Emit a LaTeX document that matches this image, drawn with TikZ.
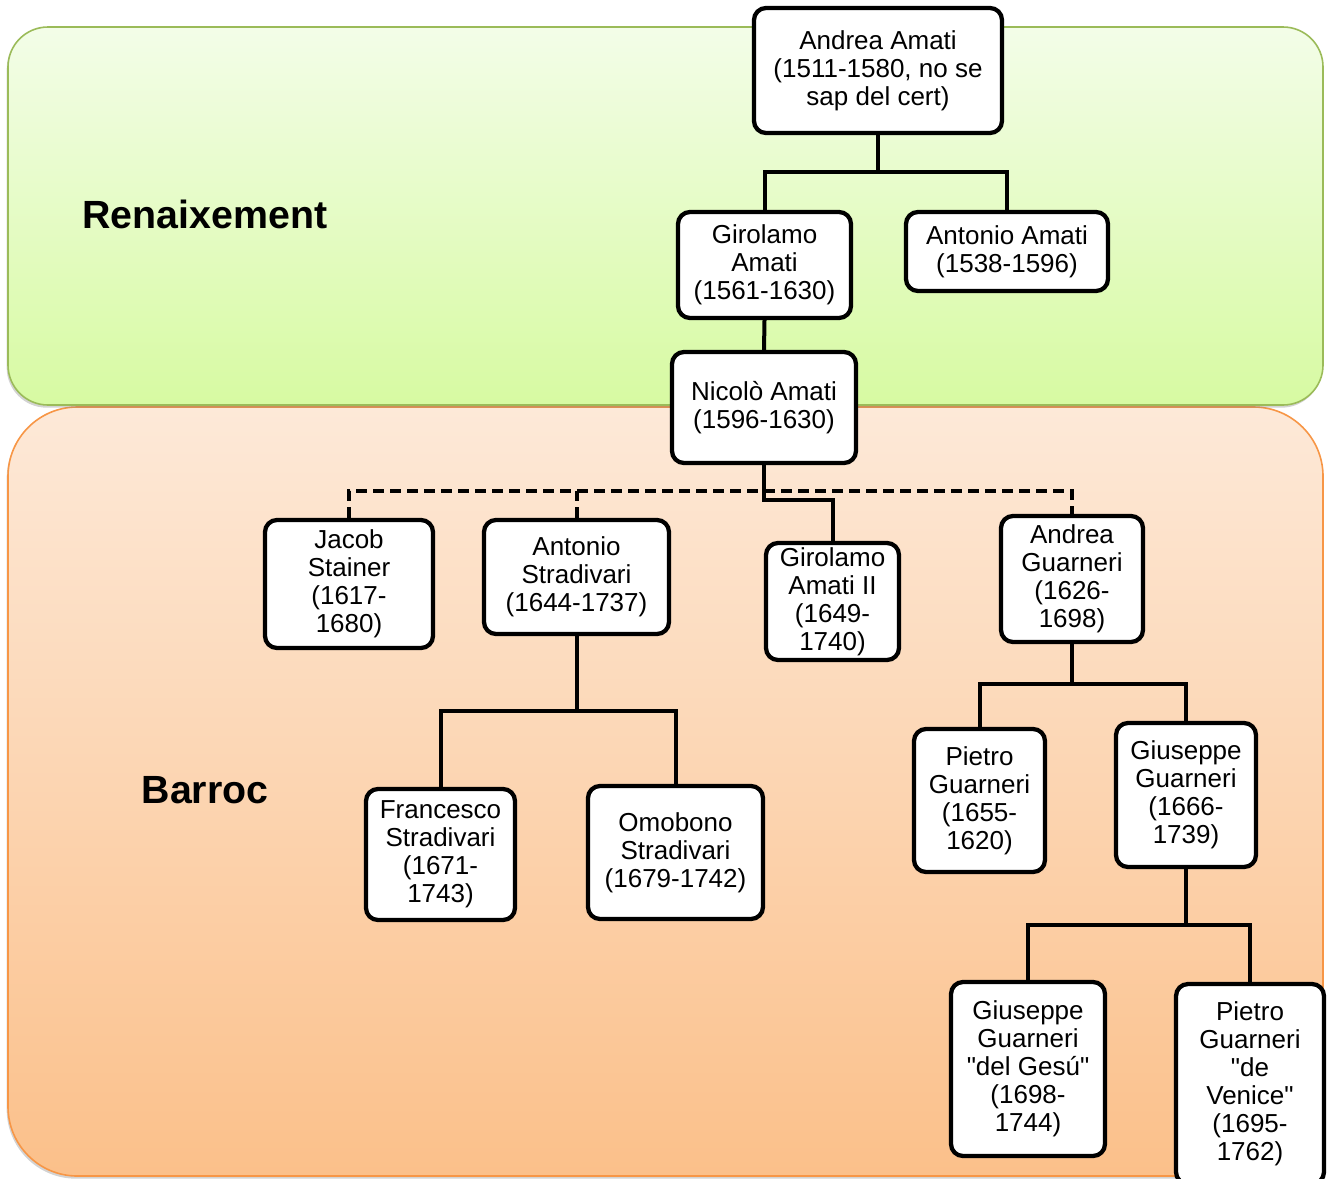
\documentclass[tikz,border=0pt]{standalone}
\usepackage{fontspec}
\setmainfont{Liberation Sans}
% same face without the TeX input mapping, so " stays a straight quote
\newfontfamily\plainsans{Liberation Sans}
\usetikzlibrary{shadows}
\definecolor{rentop}{RGB}{243,253,232}
\definecolor{renbot}{RGB}{215,250,162}
\definecolor{renline}{RGB}{155,187,89}
\definecolor{bartop}{RGB}{253,233,216}
\definecolor{barbot}{RGB}{251,192,138}
\definecolor{barline}{RGB}{247,150,70}
\begin{document}
\begin{tikzpicture}[x=0.75pt,y=-0.75pt,
  person/.style={draw=black, fill=white, line width=3.2pt, rounded corners=9pt,
    align=center, inner sep=0pt, font=\plainsans\fontsize{19.5}{21}\selectfont},
  link/.style={line width=3pt},
  dlink/.style={line width=3pt, dash pattern=on 8.25pt off 4.5pt},
  era/.style={font=\plainsans\fontsize{29.5}{34}\selectfont\bfseries},
  eraback/.style={line width=1.2pt, drop shadow={shadow xshift=-1pt, shadow yshift=-2pt, opacity=0.35}}]
\useasboundingbox (0,0) rectangle (1333,1178);

% period backgrounds
\shadedraw[eraback, draw=barline, top color=bartop, bottom color=barbot, rounded corners=52pt]
  (8,407) rectangle (1323,1176);
\shadedraw[eraback, draw=renline, top color=rentop, bottom color=renbot, rounded corners=30pt]
  (8,27) rectangle (1323,405);

\node[era] (ren) at (205,214) {Renaixement};
\node[era] (bar) at (205,790) {Barroc};

% luthiers
\node[person, minimum width=186pt, minimum height=93.75pt] (aa) at (878,70.5) {Andrea Amati\\(1511-1580, no se\\sap del cert)};
\node[person, minimum width=129.75pt, minimum height=79.5pt] (ga) at (764.5,265) {Girolamo\\Amati\\(1561-1630)};
\node[person, minimum width=151.5pt, minimum height=59.25pt] (an) at (1007,251.5) {Antonio Amati\\(1538-1596)};
\node[person, minimum width=138pt, minimum height=83.25pt] (na) at (764,407.5) {Nicolò Amati\\(1596-1630)};
\node[person, minimum width=126pt, minimum height=96pt] (js) at (349,584) {Jacob\\Stainer\\(1617-\\1680)};
\node[person, minimum width=138.75pt, minimum height=85.5pt] (as) at (576.5,577) {Antonio\\Stradivari\\(1644-1737)};
\node[person, minimum width=99.75pt, minimum height=87.75pt] (g2) at (832.5,601.5) {Girolamo\\Amati II\\(1649-\\1740)};
\node[person, minimum width=106.5pt, minimum height=94.5pt] (ag) at (1072,579) {Andrea\\Guarneri\\(1626-\\1698)};
\node[person, minimum width=111.75pt, minimum height=98.25pt] (fs) at (440.5,854.5) {Francesco\\Stradivari\\(1671-\\1743)};
\node[person, minimum width=131.25pt, minimum height=99.75pt] (os) at (675.5,852.5) {Omobono\\Stradivari\\(1679-1742)};
\node[person, minimum width=98.25pt, minimum height=107.25pt] (pg) at (979.5,800.5) {Pietro\\Guarneri\\(1655-\\1620)};
\node[person, minimum width=105pt, minimum height=108pt] (gg) at (1186,795) {Giuseppe\\Guarneri\\(1666-\\1739)};
\node[person, minimum width=115.5pt, minimum height=130.5pt] (gd) at (1028,1069) {Giuseppe\\Guarneri\\"del Gesú"\\(1698-\\1744)};
\node[person, minimum width=111pt, minimum height=150pt] (pv) at (1250,1084) {Pietro\\Guarneri\\"de\\Venice"\\(1695-\\1762)};

% levels of the branching bars
\coordinate (h1) at (0,172);
\coordinate (h2) at (0,500);
\coordinate (h3) at (0,491);
\coordinate (h4) at (0,711);
\coordinate (h5) at (0,684);
\coordinate (h6) at (0,925);

% family lines
\draw[link] (aa.south) -- (aa.south |- h1);
\draw[link] (ga.north) |- (an.north |- h1) -- (an.north);
\draw[link] (ga.south) -- (na.north);
\draw[link] (na.south) -- (na.south |- h2) -| (g2.north);
\draw[dlink] (js.north) |- (ag.north |- h3) -- (ag.north);
\draw[dlink] (as.north) -- (as.north |- h3);
\draw[link] (as.south) -- (as.south |- h4);
\draw[link] (fs.north) |- (os.north |- h4) -- (os.north);
\draw[link] (ag.south) -- (ag.south |- h5);
\draw[link] (pg.north) |- (gg.north |- h5) -- (gg.north);
\draw[link] (gg.south) -- (gg.south |- h6);
\draw[link] (gd.north) |- (pv.north |- h6) -- (pv.north);
\end{tikzpicture}
\end{document}
